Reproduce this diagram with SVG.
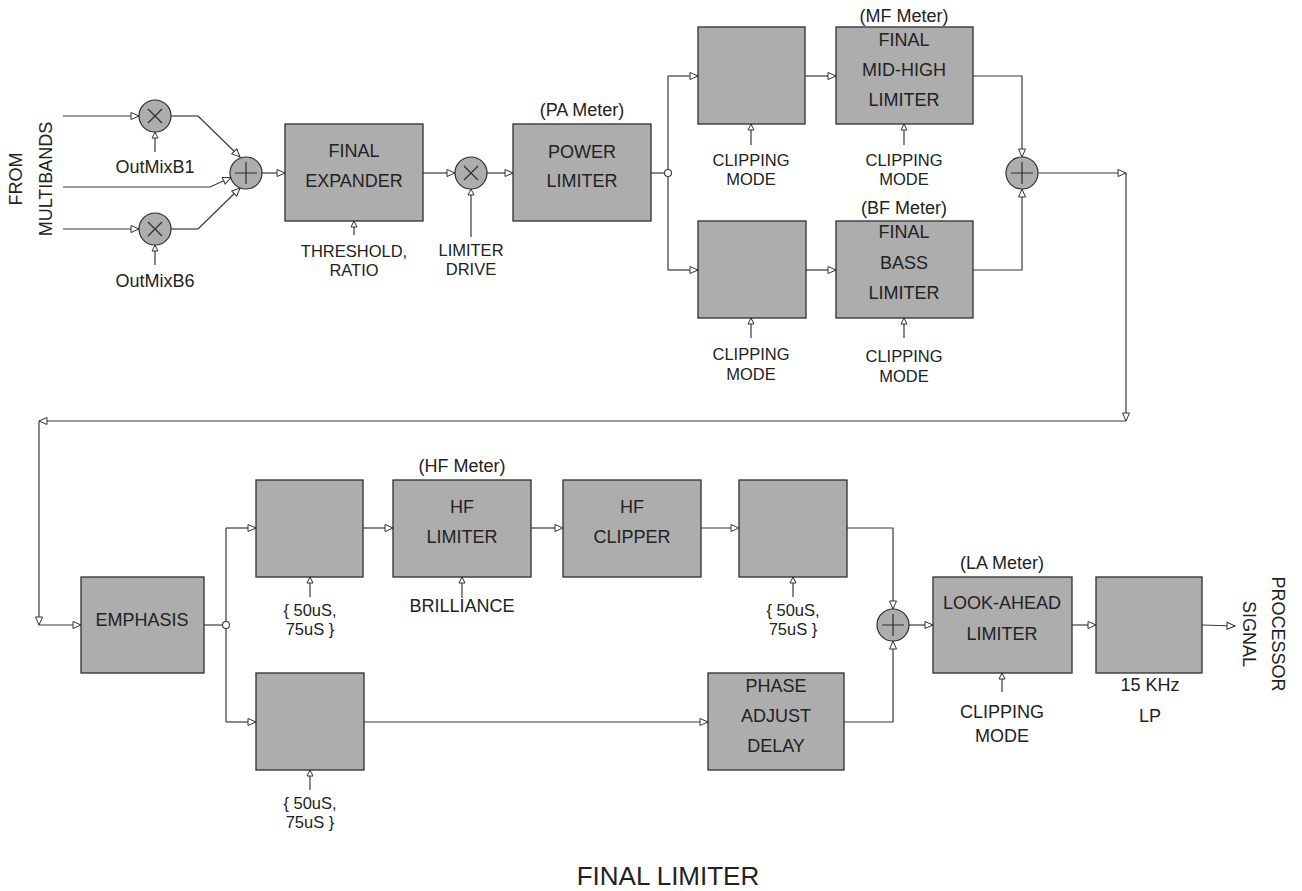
<svg xmlns="http://www.w3.org/2000/svg" width="1302" height="891" viewBox="0 0 1302 891">
<style>
.box{fill:#adadad;stroke:#2e2e2e;stroke-width:1.3}
.op{fill:#adadad;stroke:#2e2e2e;stroke-width:1.2}
.sym{stroke:#2e2e2e;stroke-width:1.2;fill:none}
.w{fill:none;stroke:#3a3a3a;stroke-width:1.2}
.a{marker-end:url(#arr)}
.s{marker-end:url(#sarr)}
.j{fill:#fff;stroke:#3a3a3a;stroke-width:1.1}
text{font-family:"Liberation Sans",Arial,sans-serif;font-size:18px;fill:#222;text-anchor:middle}
text.lb{font-size:16.5px}
.title{font-size:26px}
</style>
<defs>
<marker id="arr" markerUnits="userSpaceOnUse" viewBox="0 0 10 10" markerWidth="10" markerHeight="10" refX="9" refY="5" orient="auto">
<path d="M1,1.5 L9,5 L1,8.5 z" fill="#fff" stroke="#333" stroke-width="1"/>
</marker>
<marker id="sarr" markerUnits="userSpaceOnUse" viewBox="0 0 8 8" markerWidth="8" markerHeight="8" refX="7" refY="4" orient="auto">
<path d="M1,1 L7,4 L1,7 z" fill="#fff" stroke="#333" stroke-width="1"/>
</marker>
</defs>
<rect width="1302" height="891" fill="#fff"/>

<g id="connectors">
<path class="w a" d="M63,116 H139"/>
<path class="w a" d="M63,229 H139"/>
<path class="w" d="M171,116 H198"/>
<path class="w a" d="M198,116 L240,157"/>
<path class="w a" d="M63,187 H210 L231,177.5"/>
<path class="w" d="M171,229 H198"/>
<path class="w a" d="M198,229 L240,188"/>
<path class="w a" d="M262,173 H285"/>
<path class="w a" d="M423,173 H455"/>
<path class="w a" d="M487,173 H513"/>
<path class="w" d="M651,173 H664.5"/>
<path class="w" d="M668,76 V169.5 M668,176.5 V270"/>
<path class="w a" d="M668,76 H698"/>
<path class="w a" d="M668,270 H698"/>
<path class="w a" d="M805,76 H836"/>
<path class="w a" d="M806,270 H836"/>
<path class="w a" d="M973,76 H1022 V157"/>
<path class="w a" d="M973,270 H1022 V189"/>
<path class="w a" d="M1038,173 H1126"/>
<path class="w a" d="M1126,173 V421"/>
<path class="w a" d="M1126,421 H39"/>
<path class="w a" d="M39,421 V625"/>
<path class="w a" d="M39,625 H81"/>
<path class="w" d="M204,625 H222.5"/>
<path class="w" d="M226,528 V621.5 M226,628.5 V722"/>
<path class="w a" d="M226,528 H256"/>
<path class="w a" d="M226,722 H256"/>
<path class="w a" d="M363,528 H393"/>
<path class="w a" d="M531,528 H563"/>
<path class="w a" d="M701,528 H739"/>
<path class="w a" d="M847,528 H893 V609"/>
<path class="w a" d="M364,722 H708"/>
<path class="w a" d="M844,722 H893 V641"/>
<path class="w a" d="M909,625 H933"/>
<path class="w a" d="M1072,625 H1096"/>
<path class="w a" d="M1202,625 L1235,626"/>
<path class="w s" d="M155,152 V132"/>
<path class="w s" d="M155,265 V245"/>
<path class="w s" d="M354,235 V221"/>
<path class="w s" d="M471,237 V189"/>
<path class="w s" d="M751,145 V124"/>
<path class="w s" d="M904,145 V124"/>
<path class="w s" d="M751,338 V318"/>
<path class="w s" d="M904,338 V318"/>
<path class="w s" d="M310,597 V577"/>
<path class="w s" d="M462,598 V577"/>
<path class="w s" d="M793,597 V577"/>
<path class="w s" d="M310,790 V770"/>
<path class="w s" d="M1002,692 V673"/>
<circle class="j" cx="668" cy="173" r="3.5"/>
<circle class="j" cx="226" cy="625" r="3.5"/>
</g>

<g id="label-from">
<text transform="translate(22,179) rotate(-90)">FROM</text>
<text transform="translate(52,179) rotate(-90)">MULTIBANDS</text>
</g>

<g id="mult-b1">
<circle class="op" cx="155" cy="116" r="16"/>
<path class="sym" d="M148,109 L162,123 M162,109 L148,123"/>
<text x="155" y="173">OutMixB1</text>
</g>
<g id="mult-b6">
<circle class="op" cx="155" cy="229" r="16"/>
<path class="sym" d="M148,222 L162,236 M162,222 L148,236"/>
<text x="155" y="287">OutMixB6</text>
</g>
<g id="sum-in">
<circle class="op" cx="246" cy="173" r="16"/>
<path class="sym" d="M235,173 H257 M246,162 V184"/>
</g>
<g id="final-expander">
<rect class="box" x="285" y="124" width="138" height="97"/>
<text x="354" y="157">FINAL</text>
<text x="354" y="187">EXPANDER</text>
<text class="lb" x="354" y="257">THRESHOLD,</text>
<text class="lb" x="354" y="276">RATIO</text>
</g>
<g id="mult-drive">
<circle class="op" cx="471" cy="173" r="16"/>
<path class="sym" d="M464,166 L478,180 M478,166 L464,180"/>
<text class="lb" x="471" y="256">LIMITER</text>
<text class="lb" x="471" y="275">DRIVE</text>
</g>
<g id="power-limiter">
<rect class="box" x="513" y="124" width="138" height="97"/>
<text x="582" y="116">(PA Meter)</text>
<text x="582" y="158">POWER</text>
<text x="582" y="187">LIMITER</text>
</g>
<g id="clip-top">
<rect class="box" x="698" y="27" width="107" height="97"/>
<text class="lb" x="751" y="166">CLIPPING</text>
<text class="lb" x="751" y="185">MODE</text>
</g>
<g id="mf-limiter">
<rect class="box" x="836" y="27" width="137" height="97"/>
<text x="904" y="22">(MF Meter)</text>
<text x="904" y="46">FINAL</text>
<text x="904" y="76">MID-HIGH</text>
<text x="904" y="106">LIMITER</text>
<text class="lb" x="904" y="166">CLIPPING</text>
<text class="lb" x="904" y="185">MODE</text>
</g>
<g id="clip-bottom">
<rect class="box" x="698" y="221" width="108" height="97"/>
<text class="lb" x="751" y="360">CLIPPING</text>
<text class="lb" x="751" y="380">MODE</text>
</g>
<g id="bf-limiter">
<rect class="box" x="836" y="221" width="137" height="97"/>
<text x="904" y="214">(BF Meter)</text>
<text x="904" y="238">FINAL</text>
<text x="904" y="269">BASS</text>
<text x="904" y="299">LIMITER</text>
<text class="lb" x="904" y="362">CLIPPING</text>
<text class="lb" x="904" y="382">MODE</text>
</g>
<g id="sum-top">
<circle class="op" cx="1022" cy="173" r="16"/>
<path class="sym" d="M1011,173 H1033 M1022,162 V184"/>
</g>

<g id="emphasis">
<rect class="box" x="81" y="577" width="123" height="96"/>
<text x="142" y="626">EMPHASIS</text>
</g>
<g id="deemph-upper">
<rect class="box" x="256" y="480" width="107" height="97"/>
<text class="lb" x="310" y="616">{ 50uS,</text>
<text class="lb" x="310" y="635">75uS }</text>
</g>
<g id="hf-limiter">
<rect class="box" x="393" y="480" width="138" height="97"/>
<text x="462" y="472">(HF Meter)</text>
<text x="462" y="513">HF</text>
<text x="462" y="543">LIMITER</text>
<text x="462" y="612">BRILLIANCE</text>
</g>
<g id="hf-clipper">
<rect class="box" x="563" y="480" width="138" height="97"/>
<text x="632" y="513">HF</text>
<text x="632" y="543">CLIPPER</text>
</g>
<g id="preemph-upper">
<rect class="box" x="739" y="480" width="108" height="97"/>
<text class="lb" x="793" y="616">{ 50uS,</text>
<text class="lb" x="793" y="635">75uS }</text>
</g>
<g id="deemph-lower">
<rect class="box" x="256" y="673" width="108" height="97"/>
<text class="lb" x="310" y="809">{ 50uS,</text>
<text class="lb" x="310" y="828">75uS }</text>
</g>
<g id="phase-adjust">
<rect class="box" x="708" y="673" width="136" height="97"/>
<text x="776" y="692">PHASE</text>
<text x="776" y="722">ADJUST</text>
<text x="776" y="752">DELAY</text>
</g>
<g id="sum-bottom">
<circle class="op" cx="893" cy="625" r="16"/>
<path class="sym" d="M882,625 H904 M893,614 V636"/>
</g>
<g id="la-limiter">
<rect class="box" x="933" y="577" width="139" height="96"/>
<text x="1002" y="569">(LA Meter)</text>
<text x="1002" y="609">LOOK-AHEAD</text>
<text x="1002" y="640">LIMITER</text>
<text x="1002" y="718">CLIPPING</text>
<text x="1002" y="742">MODE</text>
</g>
<g id="lp-filter">
<rect class="box" x="1096" y="577" width="106" height="96"/>
<text x="1150" y="691">15 KHz</text>
<text x="1150" y="722">LP</text>
</g>
<g id="label-out">
<text transform="translate(1272,634) rotate(90)">PROCESSOR</text>
<text transform="translate(1243,634) rotate(90)">SIGNAL</text>
</g>
<g id="title">
<text class="title" x="668" y="885">FINAL LIMITER</text>
</g>
</svg>
